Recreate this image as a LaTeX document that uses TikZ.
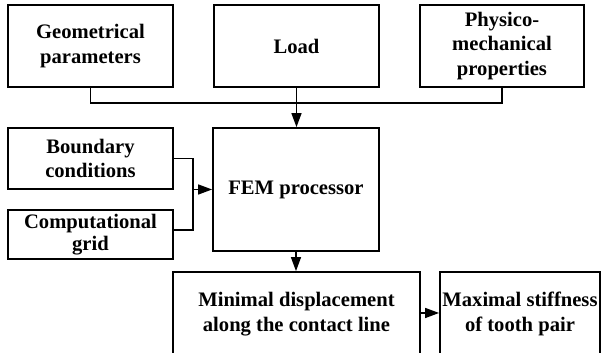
\documentclass[tikz,border=0pt]{standalone}
\usepackage{fontspec}
\setmainfont{Liberation Serif}
\usetikzlibrary{arrows.meta}
\tikzset{
  box/.style={draw, line width=0.9pt, align=center, inner sep=0pt,
    font=\bfseries\fontsize{10.3}{12.4}\selectfont},
  link/.style={line width=0.75pt},
  arrowlink/.style={link, -{Triangle[length=7pt,width=5pt]}}
}
\begin{document}
\begin{tikzpicture}[x=0.5pt,y=-0.5pt]
  \useasboundingbox (0,0) rectangle (602,353);
  \clip (0,0) rectangle (602,353);
  % input blocks
  \node[box, minimum width=82.5pt, minimum height=41pt] (geo) at (90.5,46) {Geometrical\\parameters};
  \node[box, minimum width=82.5pt, minimum height=41pt] (ld) at (296.5,46) {Load};
  \node[box, minimum width=82pt, minimum height=41pt] (phy) at (502,46) {Physico-\\mechanical\\properties};
  \node[box, minimum width=82.5pt, minimum height=30.5pt] (bound) at (90.5,158.5) {Boundary\\conditions};
  \node[box, minimum width=82.5pt, minimum height=24.5pt] (comp) at (90.5,234.5) {Computational\\[-1.5pt]grid};
  % solver and results
  \node[box, minimum width=83pt, minimum height=61.5pt] (fem) at (296,189.5) {FEM processor};
  \node[box, minimum width=123.5pt, minimum height=42pt] (mind) at (296.5,314) {Minimal displacement\\along the contact line};
  \node[box, minimum width=80pt, minimum height=42pt] (maxs) at (520,314) {Maximal stiffness\\of tooth pair};
  % collector line from the top blocks
  \coordinate (hy) at (296,103);
  \draw[link] (geo.south) |- (hy) -| (phy.south);
  \draw[arrowlink] (ld.south) -- (ld.south |- fem.north);
  % collector from boundary conditions and grid
  \coordinate (jc) at (193,230);
  \coordinate (jn) at (193,189.5);
  \draw[link] (bound.east) -| (jc) -- (comp.east |- jc);
  \draw[arrowlink] (jn) -- (fem.west);
  % outputs
  \draw[arrowlink] (fem.south) -- (fem.south |- mind.north);
  \draw[arrowlink] (mind.east |- 0,313) -- (maxs.west |- 0,313);
\end{tikzpicture}
\end{document}
